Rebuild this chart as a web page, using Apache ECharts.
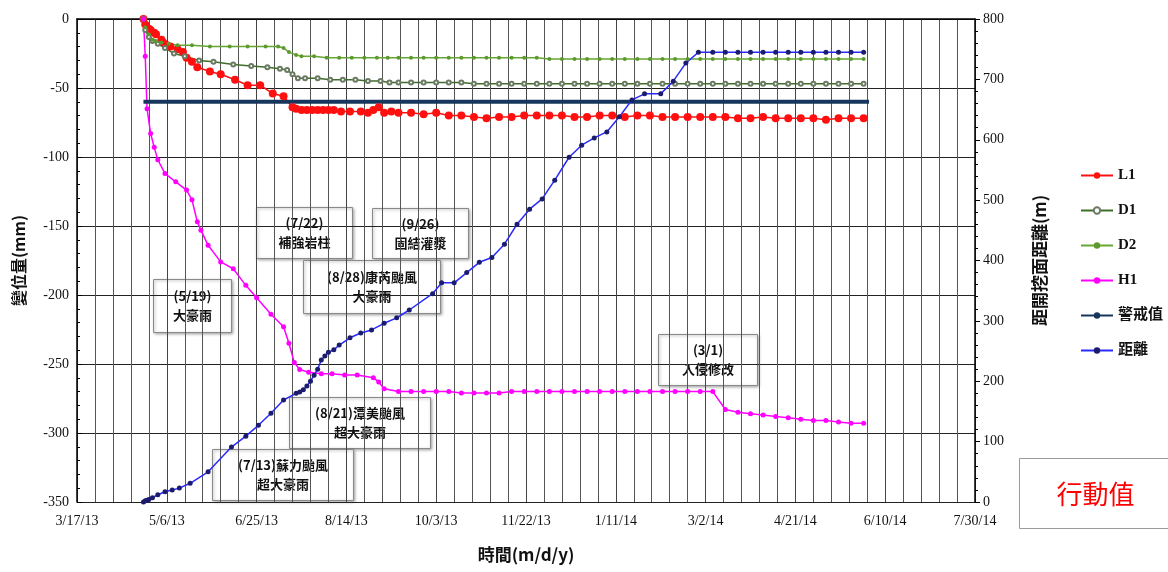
<!DOCTYPE html>
<html><head><meta charset="utf-8">
<script src="https://cdn.jsdelivr.net/npm/echarts@6/dist/echarts.min.js"></script>
<style>html,body{margin:0;padding:0;background:#fff}#c{width:1168px;height:572px}</style>
</head><body><div id="c"></div>
<script>
// ---------- DATA ----------
const axisStart = '2013-03-17';
const axisEnd = '2014-07-30';
const tickDays = 50;

const leftAxisName = '變位量(mm)';
const rightAxisName = '距開挖面距離(m)';
const xAxisName = '時間(m/d/y)';

// weekly readings shared by the later part of the record
const weeklyDates = ['2013-09-12','2013-09-19','2013-09-26','2013-10-03','2013-10-10','2013-10-17','2013-10-24','2013-10-31','2013-11-07','2013-11-14','2013-11-21','2013-11-28','2013-12-05','2013-12-12','2013-12-19','2013-12-26','2014-01-02','2014-01-09','2014-01-16','2014-01-23','2014-01-30','2014-02-06','2014-02-13','2014-02-20','2014-02-27','2014-03-06','2014-03-13','2014-03-20','2014-03-27','2014-04-03','2014-04-10','2014-04-17','2014-04-24','2014-05-01','2014-05-08','2014-05-15','2014-05-22','2014-05-29'];

const l1Early = [['2013-04-23',0],['2013-04-24',-4],['2013-04-26',-7],['2013-04-27',-8],['2013-04-29',-10],['2013-04-30',-11],['2013-05-03',-15],['2013-05-04',-17],['2013-05-06',-19],['2013-05-08',-20],['2013-05-12',-22],['2013-05-15',-24],['2013-05-17',-28],['2013-05-20',-31],['2013-05-23',-35],['2013-05-30',-38],['2013-06-05',-40],['2013-06-13',-44],['2013-06-20',-48],['2013-06-27',-48],['2013-07-04',-54],['2013-07-10',-56],['2013-07-15',-64],['2013-07-17',-65],['2013-07-20',-66],['2013-07-23',-66],['2013-07-26',-66],['2013-07-29',-66],['2013-08-01',-66],['2013-08-04',-66],['2013-08-07',-66],['2013-08-11',-67],['2013-08-16',-67],['2013-08-22',-67],['2013-08-26',-68],['2013-08-29',-66],['2013-09-01',-64],['2013-09-04',-68],['2013-09-08',-67]];
const l1Weekly = [-68,-68,-69,-68,-70,-70,-71,-72,-71,-71,-70,-70,-70,-70,-71,-71,-70,-70,-71,-70,-70,-71,-71,-71,-71,-71,-71,-72,-72,-71,-72,-72,-72,-72,-73,-72,-72,-72];

const d1Early = [['2013-04-23',0],['2013-04-24',-8],['2013-04-26',-13],['2013-04-28',-16],['2013-05-01',-18],['2013-05-05',-21],['2013-05-10',-25],['2013-05-16',-27],['2013-05-24',-30],['2013-06-01',-31],['2013-06-12',-33],['2013-06-22',-34],['2013-07-01',-35],['2013-07-08',-36],['2013-07-12',-37],['2013-07-15',-40],['2013-07-18',-43],['2013-07-22',-43],['2013-07-29',-43],['2013-08-05',-44],['2013-08-12',-44],['2013-08-19',-44],['2013-08-26',-45],['2013-09-02',-45],['2013-09-07',-46]];
const d1Weekly = [-46,-46,-46,-46,-46,-46,-47,-47,-47,-47,-47,-47,-47,-47,-47,-47,-47,-47,-47,-47,-47,-47,-47,-47,-47,-47,-47,-47,-47,-47,-47,-47,-47,-47,-47,-47,-47,-47];

const d2Early = [['2013-04-23',0],['2013-04-24',-6],['2013-04-26',-11],['2013-04-28',-15],['2013-04-30',-16],['2013-05-03',-17],['2013-05-07',-18],['2013-05-12',-19],['2013-05-20',-19],['2013-05-30',-20],['2013-06-10',-20],['2013-06-20',-20],['2013-06-30',-20],['2013-07-07',-20],['2013-07-10',-21],['2013-07-13',-24],['2013-07-17',-26],['2013-07-20',-27],['2013-07-27',-27],['2013-08-03',-28],['2013-08-10',-28],['2013-08-17',-28],['2013-08-24',-28],['2013-08-31',-28],['2013-09-06',-28]];
const d2Weekly = [-28,-28,-28,-28,-28,-28,-28,-28,-28,-28,-28,-28,-29,-29,-29,-29,-29,-29,-29,-29,-29,-29,-29,-29,-29,-29,-29,-29,-29,-29,-29,-29,-29,-29,-29,-29,-29,-29];

const h1Early = [['2013-04-23',0],['2013-04-24',-27],['2013-04-25',-65],['2013-04-27',-83],['2013-04-29',-93],['2013-05-01',-102],['2013-05-05',-112],['2013-05-11',-118],['2013-05-17',-124],['2013-05-20',-131],['2013-05-23',-147],['2013-05-25',-153],['2013-05-29',-164],['2013-06-05',-176],['2013-06-12',-181],['2013-06-19',-193],['2013-06-25',-202],['2013-07-03',-214],['2013-07-10',-223],['2013-07-13',-235],['2013-07-16',-249],['2013-07-19',-254],['2013-07-24',-256],['2013-07-31',-257],['2013-08-06',-257],['2013-08-13',-258],['2013-08-20',-258],['2013-08-29',-260],['2013-09-01',-263],['2013-09-04',-268]];
const h1Weekly = [-270,-270,-270,-270,-270,-271,-271,-271,-271,-270,-270,-270,-270,-270,-270,-270,-270,-270,-270,-270,-270,-270,-270,-270,-270,-270,-283,-285,-286,-287,-288,-289,-290,-291,-291,-292,-293,-293];

const warnDates = ['2013-04-23','2014-06-01'];
const warnValue = -60;

const distPairs = [['2013-04-23',0],['2013-04-24',2],['2013-04-25',3],['2013-04-26',4],['2013-04-28',7],['2013-05-01',12],['2013-05-05',17],['2013-05-09',20],['2013-05-13',23],['2013-05-19',31],['2013-05-29',50],['2013-06-11',91],['2013-06-19',109],['2013-06-26',127],['2013-07-03',147],['2013-07-10',169],['2013-07-17',180],['2013-07-19',182],['2013-07-21',186],['2013-07-23',192],['2013-07-25',200],['2013-07-27',210],['2013-07-29',220],['2013-07-31',235],['2013-08-02',242],['2013-08-04',248],['2013-08-07',252],['2013-08-10',260],['2013-08-16',272],['2013-08-22',280],['2013-08-28',285],['2013-09-04',296],['2013-09-11',305],['2013-09-18',318],['2013-10-01',345],['2013-10-06',363],['2013-10-13',363],['2013-10-20',380],['2013-10-27',397],['2013-11-03',405],['2013-11-10',427],['2013-11-17',460],['2013-11-24',485],['2013-12-01',502],['2013-12-08',533],['2013-12-16',571],['2013-12-23',591],['2013-12-30',603],['2014-01-06',613],['2014-01-13',638],['2014-01-20',666],['2014-01-27',676],['2014-02-05',676],['2014-02-12',697],['2014-02-19',727],['2014-02-26',745],['2014-03-06',745],['2014-03-13',745],['2014-03-20',745],['2014-03-27',745],['2014-04-03',745],['2014-04-10',745],['2014-04-17',745],['2014-04-24',745],['2014-05-01',745],['2014-05-08',745],['2014-05-15',745],['2014-05-22',745],['2014-05-29',745]];

const legendNames = ['L1','D1','D2','H1','警戒值','距離'];

const notes = [
  ['(5/19)','大豪雨'],
  ['(7/22)','補強岩柱'],
  ['(9/26)','固結灌漿'],
  ['(8/28)康芮颱風','大豪雨'],
  ['(3/1)','入侵修改'],
  ['(8/21)潭美颱風','超大豪雨'],
  ['(7/13)蘇力颱風','超大豪雨']
];
const actionLabel = '行動值';

// ---------- HELPERS ----------
function utc(s){const p=s.split('-').map(Number);return Date.UTC(p[0],p[1]-1,p[2]);}
const T0 = utc(axisStart);
function dayOf(s){return (utc(s)-T0)/86400000;}
function fmt(v){const d=new Date(T0+v*86400000);return (d.getUTCMonth()+1)+'/'+d.getUTCDate()+'/'+String(d.getUTCFullYear()).slice(2);}
function pairs(early, weekly){
  const out = early.map(p=>[dayOf(p[0]),p[1]]);
  if(weekly) weekly.forEach((v,i)=>out.push([dayOf(weeklyDates[i]),v]));
  return out;
}

// layout of callout boxes (pixels)
const noteBoxes = [
  [153,279,78,53],[256,207,96,51],[372,208,96,50],[303,260,137,53],
  [658,334,99,51],[289,397,141,51],[212,449,141,51]
];

const serif = "'Liberation Serif','Noto Sans CJK TC',serif";
const cjk = "'Noto Sans CJK TC','Liberation Serif',sans-serif";

const graphics = notes.map((n,i)=>{
  const b = noteBoxes[i];
  return {
    type:'group', left:b[0], top:b[1], z:100,
    children:[
      {type:'rect', shape:{x:0,y:0,width:b[2],height:b[3]},
       style:{fill:'#fff',stroke:'#8a8a8a',lineWidth:1,shadowBlur:3,shadowColor:'rgba(0,0,0,0.35)',shadowOffsetX:1,shadowOffsetY:1}},
      {type:'text', x:b[2]/2, y:b[3]/2,
       style:{text:n[0]+'\n'+n[1], fill:'#111', font:'bold 13px '+cjk, align:'center', verticalAlign:'middle', lineHeight:19}}
    ]
  };
});
graphics.push({
  type:'group', left:1019, top:458, z:100,
  children:[
    {type:'rect', shape:{x:0,y:0,width:160,height:70}, style:{fill:'#fff',stroke:'#9a9a9a',lineWidth:1}},
    {type:'text', x:76, y:36, style:{text:actionLabel, fill:'#ff0000', font:'26px '+cjk, align:'center', verticalAlign:'middle'}}
  ]
});

const chart = echarts.init(document.getElementById('c'), null, {renderer:'canvas'});
chart.setOption({
  animation:false,
  backgroundColor:'#fff',
  grid:{left:77,right:193,top:19,bottom:70,containLabel:false},
  legend:{
    data:legendNames, orient:'vertical', left:1075, top:163,
    itemWidth:32, itemHeight:8, itemGap:20,
    textStyle:{fontFamily:serif, fontSize:15, fontWeight:'bold', color:'#111'}
  },
  xAxis:{
    type:'value', min:0, max:dayOf(axisEnd), interval:tickDays,
    name:xAxisName, nameLocation:'middle', nameGap:44,
    nameTextStyle:{fontFamily:cjk, fontSize:17, fontWeight:'bold', color:'#111'},
    axisLine:{show:true,lineStyle:{color:'#000',width:1.5}},
    axisTick:{show:false},
    minorTick:{show:false,splitNumber:5},
    axisLabel:{fontFamily:serif,fontSize:14,color:'#111',margin:12,formatter:fmt,showMaxLabel:true,showMinLabel:true},
    splitLine:{show:true,lineStyle:{color:'#444',width:1}},
    minorSplitLine:{show:true,lineStyle:{color:'#555',width:1}}
  },
  yAxis:[{
    type:'value', min:-350, max:0, interval:50, position:'left',
    name:leftAxisName, nameLocation:'middle', nameGap:50, nameRotate:90,
    nameTextStyle:{fontFamily:cjk, fontSize:16, fontWeight:'bold', color:'#111'},
    axisLine:{show:true,lineStyle:{color:'#000',width:1.5}},
    axisTick:{show:true,inside:true,length:5,lineStyle:{color:'#000'}},
    minorTick:{show:true,splitNumber:5,length:3,lineStyle:{color:'#000'}},
    axisLabel:{fontFamily:serif,fontSize:14,color:'#111',margin:8},
    splitLine:{show:true,lineStyle:{color:'#222',width:1}}
  },{
    type:'value', min:0, max:800, interval:100, position:'right',
    name:rightAxisName, nameLocation:'middle', nameGap:56, nameRotate:90,
    nameTextStyle:{fontFamily:cjk, fontSize:17, fontWeight:'bold', color:'#111'},
    axisLine:{show:true,lineStyle:{color:'#000',width:1.5}},
    axisTick:{show:true,inside:false,length:5,lineStyle:{color:'#000'}},
    minorTick:{show:true,splitNumber:5,length:3,lineStyle:{color:'#000'}},
    axisLabel:{fontFamily:serif,fontSize:14,color:'#111',margin:8},
    splitLine:{show:false}
  }],
  graphic:graphics,
  series:[
    {name:'L1',type:'line',yAxisIndex:0,data:pairs(l1Early,l1Weekly),symbol:'circle',symbolSize:8,
     itemStyle:{color:'#ff1010'},lineStyle:{color:'#ff1010',width:1.5}},
    {name:'D1',type:'line',yAxisIndex:0,data:pairs(d1Early,d1Weekly),symbol:'emptyCircle',symbolSize:4,
     itemStyle:{color:'#6b7a62',borderColor:'#5f6f55',borderWidth:1},lineStyle:{color:'#3f6e2a',width:1.5}},
    {name:'D2',type:'line',yAxisIndex:0,data:pairs(d2Early,d2Weekly),symbol:'circle',symbolSize:4,
     itemStyle:{color:'#5c9a2e'},lineStyle:{color:'#66a633',width:1.5}},
    {name:'H1',type:'line',yAxisIndex:0,data:pairs(h1Early,h1Weekly),symbol:'circle',symbolSize:5,
     itemStyle:{color:'#ff00ff'},lineStyle:{color:'#ff00ff',width:1.5}},
    {name:'警戒值',type:'line',yAxisIndex:0,data:warnDates.map(d=>[dayOf(d),warnValue]),symbol:'none',
     itemStyle:{color:'#17365d'},lineStyle:{color:'#17365d',width:4}},
    {name:'距離',type:'line',yAxisIndex:1,data:pairs(distPairs),symbol:'circle',symbolSize:5,
     itemStyle:{color:'#1c1c6e'},lineStyle:{color:'#2a2aff',width:1.5}}
  ]
});
</script>
</body></html>
